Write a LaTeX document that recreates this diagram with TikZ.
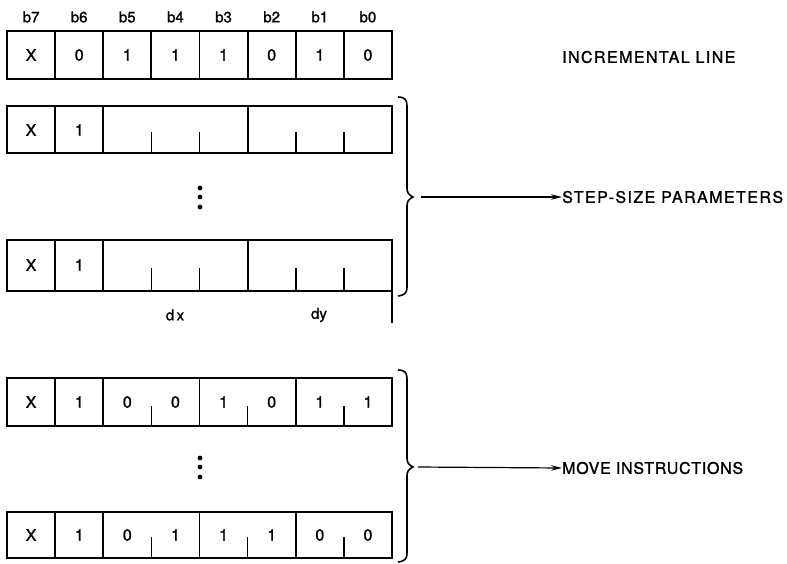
\documentclass[tikz,border=0pt]{standalone}
\usepackage{fontspec}
\setmainfont[FakeBold=1.3]{TeX Gyre Heros}
\newfontfamily\spacedfont[LetterSpace=9,FakeBold=1.3]{TeX Gyre Heros}
\newfontfamily\tightfont[LetterSpace=4.5,FakeBold=1.3]{TeX Gyre Heros}
\usetikzlibrary{arrows.meta}
\begin{document}
\begin{tikzpicture}[x=1pt,y=-1pt,
  box/.style={line width=1.9pt},
  tickline/.style={line width=1.7pt},
  cell/.style={font=\fontsize{16}{16}\selectfont, inner sep=0pt},
  bitlbl/.style={font=\fontsize{15}{15}\selectfont, inner sep=0pt},
  lbl/.style={font=\spacedfont\fontsize{16}{16}\selectfont, anchor=west, inner sep=0pt},
  lblt/.style={font=\tightfont\fontsize{16}{16}\selectfont, anchor=west, inner sep=0pt},
  brc/.style={line width=1.6pt},
  arr/.style={-{Stealth[length=11pt,width=5.5pt]}, line width=1.2pt},
  dot/.style={fill=black}]
\useasboundingbox (0,0) rectangle (787,563);
\def\cw{48.125}
% bit labels
\foreach \lab [count=\i from 0] in {b7,b6,b5,b4,b3,b2,b1,b0}
  \node[bitlbl] (bl\i) at ({7+\cw*(\i+0.5)},17) {\lab};
% row 1
\draw[box] (7,31) rectangle (392,79);
\foreach \i in {1,...,7} \draw[box] ({7+\cw*\i},31) -- ({7+\cw*\i},79);
\foreach \v [count=\i from 0] in {X,0,1,1,1,0,1,0}
  \node[cell] (ra\i) at ({7+\cw*(\i+0.5)},55) {\v};
\node[lbl] (incr) at (562,57) {INCREMENTAL LINE};
% row 2
\draw[box] (7,106) rectangle (392,153);
\foreach \i in {1,2,5} \draw[box] ({7+\cw*\i},106) -- ({7+\cw*\i},153);
\foreach \i in {3,4,6,7} \draw[tickline] ({7+\cw*\i},153) -- ({7+\cw*\i},132);
\node[cell] (rb0) at ({7+\cw*0.5},130) {X};
\node[cell] (rb1) at ({7+\cw*1.5},130) {1};
% dots
\foreach \y in {188,197,207} \fill[dot] (200,\y) circle (2.4pt);
% row 3
\draw[box] (7,240) rectangle (392,291);
\foreach \i in {1,2,5} \draw[box] ({7+\cw*\i},240) -- ({7+\cw*\i},291);
\foreach \i in {3,4,6,7} \draw[tickline] ({7+\cw*\i},291) -- ({7+\cw*\i},268);
\node[cell] (rc0) at ({7+\cw*0.5},265) {X};
\node[cell] (rc1) at ({7+\cw*1.5},265) {1};
\draw[box] (392,291) -- (392,323);
\node[bitlbl] (dx) at (175,315) {d\hspace{2.5pt}x};
\node[bitlbl] (dy) at (319,315) {dy};
% brace 1
\draw[brc] (398,97) .. controls (405,97) and (407,100) .. (407,106) -- (407,188)
  .. controls (407,193) and (409,195) .. (413,197)
  .. controls (409,199) and (407,201) .. (407,206) -- (407,287)
  .. controls (407,293) and (405,295) .. (398,296);
\coordinate (t1) at (421,197);
\node[lbl] (ssp) at (562,197) {STEP-SIZE PARAMETERS};
\draw[arr] (t1) -- (ssp.west);
% row 4
\draw[box] (7,378) rectangle (392,426);
\foreach \i in {1,2,4,6} \draw[box] ({7+\cw*\i},378) -- ({7+\cw*\i},426);
\foreach \i in {3,5,7} \draw[tickline] ({7+\cw*\i},426) -- ({7+\cw*\i},406);
\foreach \v [count=\i from 0] in {X,1,0,0,1,0,1,1}
  \node[cell] (rd\i) at ({7+\cw*(\i+0.5)},402) {\v};
\foreach \y in {458,467,477} \fill[dot] (200,\y) circle (2.4pt);
% row 5
\draw[box] (7,512) rectangle (392,558);
\foreach \i in {1,2,4,6} \draw[box] ({7+\cw*\i},512) -- ({7+\cw*\i},558);
\foreach \i in {3,5,7} \draw[tickline] ({7+\cw*\i},558) -- ({7+\cw*\i},537);
\foreach \v [count=\i from 0] in {X,1,0,1,1,1,0,0}
  \node[cell] (re\i) at ({7+\cw*(\i+0.5)},535) {\v};
% brace 2
\draw[brc] (398,370) .. controls (405,370) and (407,373) .. (407,379) -- (407,458)
  .. controls (407,463) and (409,465) .. (413,467)
  .. controls (409,469) and (407,471) .. (407,476) -- (407,553)
  .. controls (407,559) and (405,561) .. (398,562);
\coordinate (t2) at (418,467);
\node[lblt] (mvi) at (562,468) {MOVE INSTRUCTIONS};
\draw[arr] (t2) -- (mvi.west);
\end{tikzpicture}
\end{document}
